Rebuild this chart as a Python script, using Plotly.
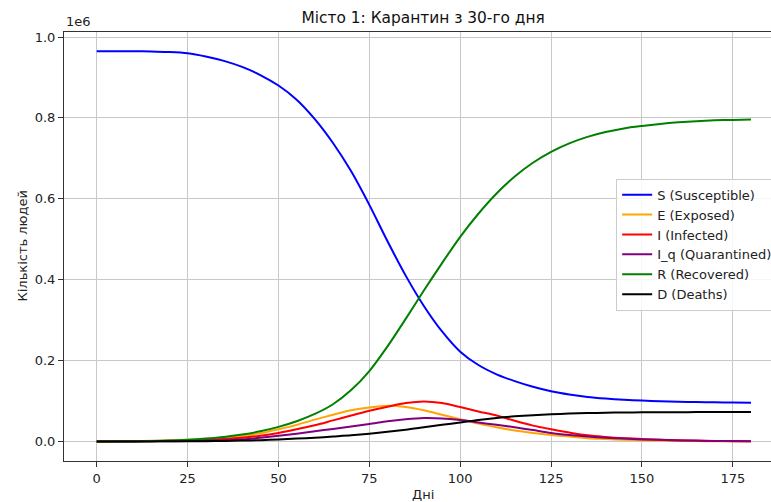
import plotly.graph_objects as go

# Days of the simulation (sampled every 5 days)
days = list(range(0, 181, 5))

# Compartment sizes (people)
S = [965000, 965000, 965000, 964000, 963000, 960000, 952000, 941000, 926000, 906000,
     880000, 845000, 797000, 738000, 668000, 585000, 495000, 410000, 335000, 272000,
     222000, 189000, 166000, 149000, 135000, 124000, 116000, 110000, 106000, 103000,
     101000, 99500, 98300, 97300, 96600, 96100, 95800]
E = [0, 500, 1000, 1500, 2000, 4000, 6000, 9000, 13000, 20000,
     30000, 41000, 54000, 66000, 77000, 84000, 88000, 85000, 77000, 66000,
     55000, 44000, 35000, 27000, 21000, 16000, 12000, 8000, 6000, 4000,
     3000, 2000, 1300, 800, 500, 300, 200]
I = [0, 300, 600, 1000, 1500, 2500, 4000, 6000, 9000, 14000,
     21000, 30000, 40000, 52000, 64000, 76000, 86000, 95000, 99000, 95000,
     85000, 74000, 64000, 51000, 39000, 30000, 22000, 15000, 11000, 8000,
     6000, 4000, 2500, 1700, 1000, 700, 500]
I_q = [0, 0, 100, 200, 400, 1000, 2000, 3000, 5000, 9000,
       14000, 19000, 25000, 31000, 37000, 43000, 50000, 55000, 58000, 57000,
       53000, 47000, 41000, 35000, 28000, 21000, 16000, 12000, 9000, 7000,
       5000, 4000, 3000, 2000, 1300, 900, 600]
R = [0, 200, 500, 1000, 2000, 4000, 7000, 11000, 17000, 25000,
     36000, 50000, 68000, 92000, 127000, 174000, 235000, 303000, 373000, 441000,
     506000, 563000, 613000, 655000, 689000, 716000, 737000, 753000, 765000, 774000,
     780000, 785000, 789000, 792000, 794000, 795000, 796000]
D = [0, 0, 0, 100, 200, 400, 600, 1000, 2000, 3000,
     5000, 7000, 9000, 12000, 15000, 19000, 24000, 29000, 35000, 41000,
     47000, 53000, 58000, 62000, 65000, 67000, 69000, 70000, 71000, 71500,
     72000, 72200, 72400, 72500, 72500, 72600, 72600]

series = [
    ("S (Susceptible)", S, "blue"),
    ("E (Exposed)", E, "orange"),
    ("I (Infected)", I, "red"),
    ("I_q (Quarantined)", I_q, "purple"),
    ("R (Recovered)", R, "green"),
    ("D (Deaths)", D, "black"),
]

y_ticks = [0, 200000, 400000, 600000, 800000, 1000000]
y_tick_text = ["0.0", "0.2", "0.4", "0.6", "0.8", "1.0"]
x_ticks = [0, 25, 50, 75, 100, 125, 150, 175]

FONT = "DejaVu Sans"

fig = go.Figure()
for name, vals, color in series:
    fig.add_trace(go.Scatter(
        x=days, y=vals, mode="lines", name=name,
        line=dict(color=color, width=2, shape="spline", smoothing=0.8),
    ))

fig.update_layout(
    width=771, height=502,
    margin=dict(l=64, r=0, t=32, b=41, autoexpand=False),
    paper_bgcolor="white", plot_bgcolor="white",
    font=dict(family=FONT, size=13, color="#222"),
    title=dict(text="Місто 1: Карантин з 30-го дня", x=0.508, xref="paper",
               xanchor="center", y=1 - 18 / 502, yanchor="middle",
               font=dict(family=FONT, size=15.4, color="#111")),
    legend=dict(x=0.781, y=0.658, xanchor="left", yanchor="top",
                bgcolor="rgba(255,255,255,0.85)", bordercolor="#cccccc", borderwidth=1,
                font=dict(family=FONT, size=13, color="#222"),
                tracegroupgap=0, itemwidth=30),
    showlegend=True,
)

fig.update_xaxes(
    range=[-9, 185.5], tickvals=x_ticks, ticks="outside", ticklen=5, tickcolor="#333",
    showline=True, linecolor="#333", linewidth=1, mirror=True,
    showgrid=True, gridcolor="#c8c8c8", gridwidth=1, zeroline=False,
    tickfont=dict(family=FONT, size=13, color="#222"),
)
fig.update_yaxes(
    range=[-48400, 1012400], tickvals=y_ticks, ticktext=y_tick_text,
    ticks="outside", ticklen=5, tickcolor="#333",
    showline=True, linecolor="#333", linewidth=1, mirror=False,
    showgrid=True, gridcolor="#c8c8c8", gridwidth=1, zeroline=False,
    tickfont=dict(family=FONT, size=13, color="#222"),
)

# Axis titles and the scale offset label
fig.add_annotation(text="Дні", xref="paper", yref="paper", x=0.508, y=-33 / 429,
                   xanchor="center", yanchor="middle", showarrow=False,
                   font=dict(family=FONT, size=13, color="#222"))
fig.add_annotation(text="Кількість людей", xref="paper", yref="paper",
                   x=-42 / 707, y=0.5, textangle=-90, xanchor="center", yanchor="middle",
                   showarrow=False, font=dict(family=FONT, size=13, color="#222"))
fig.add_annotation(text="1e6", xref="paper", yref="paper", x=0, y=1 + 10 / 429,
                   xanchor="left", yanchor="middle", showarrow=False,
                   font=dict(family=FONT, size=13, color="#222"))

fig.write_html("out.html")
